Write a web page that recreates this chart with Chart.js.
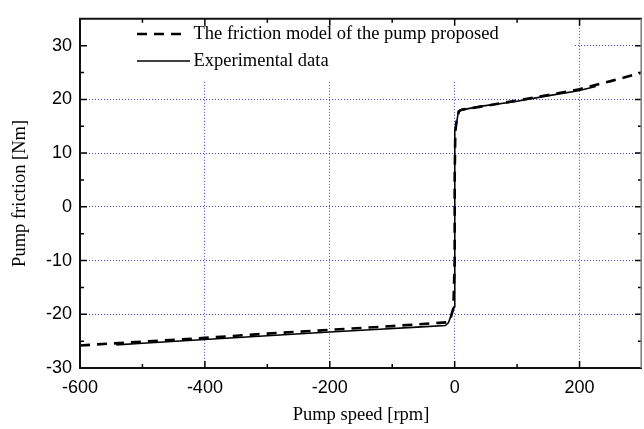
<!DOCTYPE html>
<html>
<head>
<meta charset="utf-8">
<script src="https://cdn.jsdelivr.net/npm/chart.js@4.4.1/dist/chart.umd.min.js"></script>
<style>
  html, body { margin: 0; padding: 0; background: #fff; }
  #chart { display: block; }
</style>
</head>
<body>
<canvas id="chart" width="644" height="429"></canvas>
<script>
// values
const modelSpeed = [-600, -500, -400, -300, -200, -100, -25, -12, -6, -2, 0, 0, 1, 3, 7, 12, 50, 100, 150, 200, 250, 300];
const modelFriction = [-25.8, -25.1, -24.4, -23.6, -22.9, -22.2, -21.6, -21.5, -20.5, -18.8, -10, 5, 14, 16, 17.8, 18.1, 18.8, 19.8, 20.8, 21.9, 23.4, 25.0];

const expSpeed = [-542, -500, -400, -300, -200, -120, -60, -15, -10, -5, -1, 0, 0, 0.5, 3, 6, 10, 40, 93, 146, 198, 226];
const expFriction = [-25.7, -25.4, -24.7, -24.0, -23.3, -22.8, -22.4, -22.1, -21.6, -20.0, -18.6, -5, 10, 14, 15.5, 17.8, 18.0, 18.7, 19.5, 20.6, 21.6, 22.4];

const seriesLabels = ['The friction model of the pump proposed', 'Experimental data'];

const xTicks = [-600, -400, -200, 0, 200];
const xMinorTicks = [-500, -300, -100, 100];
const yTicks = [-30, -20, -10, 0, 10, 20, 30];
const yMinorTicks = [-25, -15, -5, 5, 15, 25];

const toPoints = (xs, ys) => xs.map((x, i) => ({ x, y: ys[i] }));

const serif = "'Liberation Serif', 'Times New Roman', serif";
const sans = "'Liberation Sans', Arial, sans-serif";

// =====================================
// FRAME, INWARD TICKS AND LEGEND
// =====================================

const framePlugin = {
	id: 'frame',
	beforeDatasetsDraw(chart) {
		// legend background hides the grid behind it
		const { ctx, chartArea: a } = chart;
		ctx.save();
		ctx.fillStyle = '#ffffff';
		ctx.fillRect(a.left + 1, 15, 572 - a.left, 65);
		ctx.restore();
	},
	afterDatasetsDraw(chart) {
		const { ctx, chartArea: a, scales } = chart;
		const xs = scales.x;
		const ys = scales.y;
		ctx.save();

		// ticks on all four sides, pointing inward
		ctx.strokeStyle = '#000';
		ctx.lineWidth = 1.5;
		const tickX = (v, len) => {
			const px = xs.getPixelForValue(v);
			ctx.beginPath();
			ctx.moveTo(px, a.bottom); ctx.lineTo(px, a.bottom - len);
			ctx.moveTo(px, a.top); ctx.lineTo(px, a.top + len);
			ctx.stroke();
		};
		const tickY = (v, len) => {
			const py = ys.getPixelForValue(v);
			ctx.beginPath();
			ctx.moveTo(a.left, py); ctx.lineTo(a.left + len, py);
			ctx.moveTo(a.right, py); ctx.lineTo(a.right - len, py);
			ctx.stroke();
		};
		xTicks.forEach((v) => tickX(v, 7));
		xMinorTicks.forEach((v) => tickX(v, 4));
		yTicks.forEach((v) => tickY(v, 7));
		yMinorTicks.forEach((v) => tickY(v, 4));

		// box: dark left/bottom/top, grey right side
		ctx.lineWidth = 2;
		ctx.strokeStyle = '#111';
		ctx.beginPath();
		ctx.moveTo(a.right, a.top); ctx.lineTo(a.left, a.top);
		ctx.lineTo(a.left, a.bottom); ctx.lineTo(a.right, a.bottom);
		ctx.stroke();
		ctx.strokeStyle = '#808080';
		ctx.lineWidth = 1.6;
		ctx.beginPath();
		ctx.moveTo(a.right - 0.8, a.top); ctx.lineTo(a.right - 0.8, a.bottom);
		ctx.stroke();

		// legend
		const ds = chart.data.datasets;
		ctx.font = `18.5px ${serif}`;
		ctx.fillStyle = '#000';
		ctx.textBaseline = 'middle';
		ctx.textAlign = 'left';
		const rows = [
			{ y: 34, x1: 137, x2: 182 },
			{ y: 61, x1: 137, x2: 190 },
		];
		rows.forEach((r, i) => {
			ctx.strokeStyle = ds[i].borderColor;
			ctx.lineWidth = ds[i].borderWidth;
			ctx.setLineDash(ds[i].borderDash || []);
			ctx.beginPath();
			ctx.moveTo(r.x1, r.y); ctx.lineTo(r.x2, r.y);
			ctx.stroke();
			ctx.setLineDash([]);
			ctx.fillText(ds[i].label, 193.5, r.y);
		});
		ctx.restore();
	},
};

const gridColor = (edgeValues) => (c) =>
	c.tick && edgeValues.includes(c.tick.value) ? 'rgba(0,0,0,0)' : 'rgba(40,40,255,0.9)';

new Chart(document.getElementById('chart'), {
	type: 'line',
	data: {
		datasets: [
			{
				label: seriesLabels[0],
				data: toPoints(modelSpeed, modelFriction),
				borderColor: '#000',
				borderWidth: 2.6,
				borderDash: [10, 7],
				pointRadius: 0,
				tension: 0,
				fill: false,
			},
			{
				label: seriesLabels[1],
				data: toPoints(expSpeed, expFriction),
				borderColor: '#000',
				borderWidth: 1.6,
				pointRadius: 0,
				tension: 0,
				fill: false,
			},
		],
	},
	options: {
		responsive: false,
		animation: false,
		devicePixelRatio: 1,
		layout: { padding: { top: 7, right: 2, left: 0, bottom: 0 } },
		plugins: {
			legend: { display: false },
			tooltip: { enabled: false },
		},
		scales: {
			x: {
				type: 'linear',
				min: -600,
				max: 300,
				afterFit: (s) => { s.height = 61; },
				afterBuildTicks: (s) => { s.ticks = xTicks.map((value) => ({ value })); },
				grid: {
					color: gridColor([-600]),
					lineWidth: 1,
					drawTicks: false,
				},
				border: { display: false, dash: [1, 2] },
				ticks: {
					color: '#000',
					padding: 9.5,
					maxRotation: 0,
					font: { family: sans, size: 18 },
				},
				title: {
					display: true,
					text: 'Pump speed [rpm]',
					color: '#000',
					padding: { top: 0, bottom: 2.5 },
					font: { family: serif, size: 18.5 },
				},
			},
			y: {
				min: -30,
				max: 35,
				afterFit: (s) => { s.width = 80; },
				afterBuildTicks: (s) => { s.ticks = yTicks.map((value) => ({ value })); },
				grid: {
					color: gridColor([-30]),
					lineWidth: 1,
					drawTicks: false,
				},
				border: { display: false, dash: [1, 2] },
				ticks: {
					color: '#000',
					padding: 8,
					font: { family: sans, size: 18 },
				},
				title: {
					display: true,
					text: 'Pump friction [Nm]',
					color: '#000',
					padding: { top: 9, bottom: 0 },
					font: { family: serif, size: 18.5 },
				},
			},
		},
	},
	plugins: [framePlugin],
});
</script>
</body>
</html>
